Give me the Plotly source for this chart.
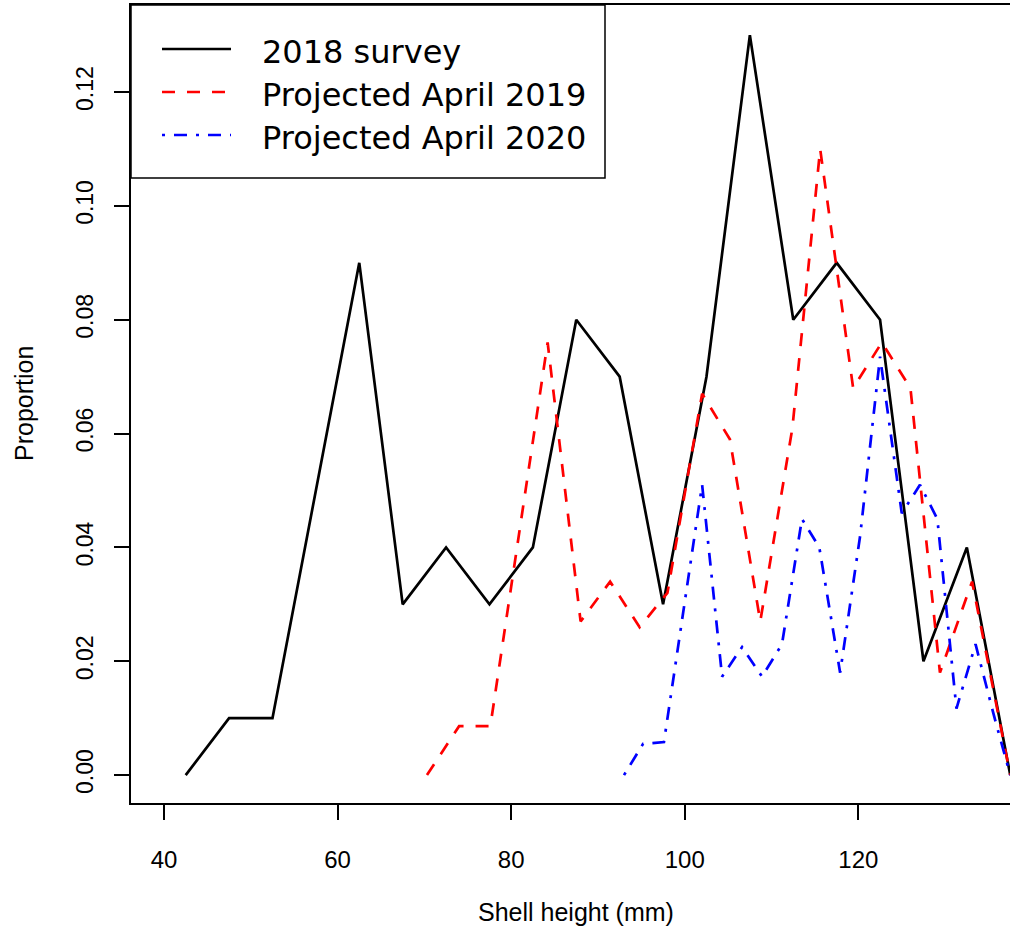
import plotly.graph_objects as go

# Shell height bins (mm) and proportions, 2018 survey
size_2018 = [42.5, 47.5, 52.5, 57.5, 62.5, 67.5, 72.5, 77.5, 82.5, 87.5,
             92.5, 97.5, 102.5, 107.5, 112.5, 117.5, 122.5, 127.5, 132.5, 137.5]
prop_2018 = [0.0, 0.01, 0.01, 0.05, 0.09, 0.03, 0.04, 0.03, 0.04, 0.08,
             0.07, 0.03, 0.07, 0.13, 0.08, 0.09, 0.08, 0.02, 0.04, 0.0]

# Projected size composition, April 2019
size_2019 = [70.3, 74.0, 77.6, 80.9, 84.2, 88.0, 91.4, 94.8, 98.0, 102.0,
             105.2, 108.7, 112.4, 115.6, 119.4, 122.7, 126.0, 129.4, 133.1, 137.5]
prop_2019 = [0.0, 0.0086, 0.0086, 0.042, 0.076, 0.027, 0.034, 0.026, 0.032, 0.067,
             0.059, 0.027, 0.061, 0.110, 0.068, 0.076, 0.068, 0.018, 0.034, 0.0]

# Projected size composition, April 2020
size_2020 = [93.0, 95.2, 97.6, 99.8, 102.0, 104.3, 106.6, 108.9, 111.2, 113.5,
             115.5, 117.9, 120.2, 122.5, 125.0, 127.1, 129.1, 131.3, 133.5, 135.7, 137.5]
prop_2020 = [0.0, 0.0055, 0.0058, 0.028, 0.051, 0.0173, 0.0225, 0.0173, 0.023, 0.045,
             0.040, 0.018, 0.042, 0.0735, 0.046, 0.051, 0.045, 0.0117, 0.023, 0.010, 0.0]

x_ticks = [40, 60, 80, 100, 120]
y_ticks = [0.00, 0.02, 0.04, 0.06, 0.08, 0.10, 0.12]
y_tick_text = ["0.00", "0.02", "0.04", "0.06", "0.08", "0.10", "0.12"]

series = [
    ("2018 survey", size_2018, prop_2018, "black", "solid"),
    ("Projected April 2019", size_2019, prop_2019, "#ff0000", "13px,12px"),
    ("Projected April 2020", size_2020, prop_2020, "#0000ff", "3px,9px,13px,9px"),
]

W, H = 1010, 928
L, R, T, B = 131, 0, 5, 125
pw, ph = W - L - R, H - T - B


def px_x(p):
    return (p - L) / pw


def px_y(p):
    return (H - B - p) / ph


fig = go.Figure()
for name, xs, ys, col, dash in series:
    fig.add_trace(go.Scatter(
        x=xs, y=ys, mode="lines", name=name, showlegend=False,
        line=dict(color=col, width=2.7, dash=dash),
    ))

# Legend box drawn in the top-left corner of the plot area
shapes = [dict(type="rect", xref="paper", yref="paper",
               x0=0, x1=px_x(605), y0=px_y(178), y1=1,
               line=dict(color="black", width=1.5), fillcolor="white", layer="above")]
annotations = []
for i, (name, xs, ys, col, dash) in enumerate(series):
    ry = 49 + i * 43
    shapes.append(dict(type="line", xref="paper", yref="paper",
                       x0=px_x(162), x1=px_x(231), y0=px_y(ry), y1=px_y(ry),
                       line=dict(color=col, width=2.7, dash=dash), layer="above"))
    annotations.append(dict(xref="paper", yref="paper", x=px_x(260), y=px_y(ry + 3),
                            text=name, showarrow=False, xanchor="left", yanchor="middle",
                            font=dict(family="DejaVu Sans", size=32, color="black")))

# Axis titles
annotations.append(dict(xref="paper", yref="paper", x=px_x(576), y=px_y(912),
                        text="Shell height (mm)", showarrow=False,
                        xanchor="center", yanchor="middle",
                        font=dict(family="Liberation Sans", size=25, color="black")))
annotations.append(dict(xref="paper", yref="paper", x=px_x(24), y=px_y(404),
                        text="Proportion", showarrow=False, textangle=-90,
                        xanchor="center", yanchor="middle",
                        font=dict(family="Liberation Sans", size=25, color="black")))

fig.update_layout(
    width=W, height=H,
    margin=dict(l=L, r=R, t=T, b=B, pad=0),
    paper_bgcolor="white", plot_bgcolor="white",
    shapes=shapes, annotations=annotations,
    xaxis=dict(range=[36.2, 137.47], tickvals=x_ticks, ticks="outside", ticklen=15,
               tickwidth=1.5, tickcolor="black", showgrid=False, zeroline=False,
               showline=True, linecolor="black", linewidth=1.5, mirror=True,
               ticklabelstandoff=19,
               tickfont=dict(family="Liberation Sans", size=24, color="black")),
    yaxis=dict(range=[-0.0049, 0.1353], tickvals=y_ticks, ticktext=y_tick_text,
               ticks="outside", ticklen=15, tickwidth=1.5, tickcolor="black",
               tickangle=-90, showgrid=False, zeroline=False,
               showline=True, linecolor="black", linewidth=1.5, mirror=False,
               ticklabelstandoff=12,
               tickfont=dict(family="Liberation Sans", size=23, color="black")),
)

fig.write_html("out.html")
